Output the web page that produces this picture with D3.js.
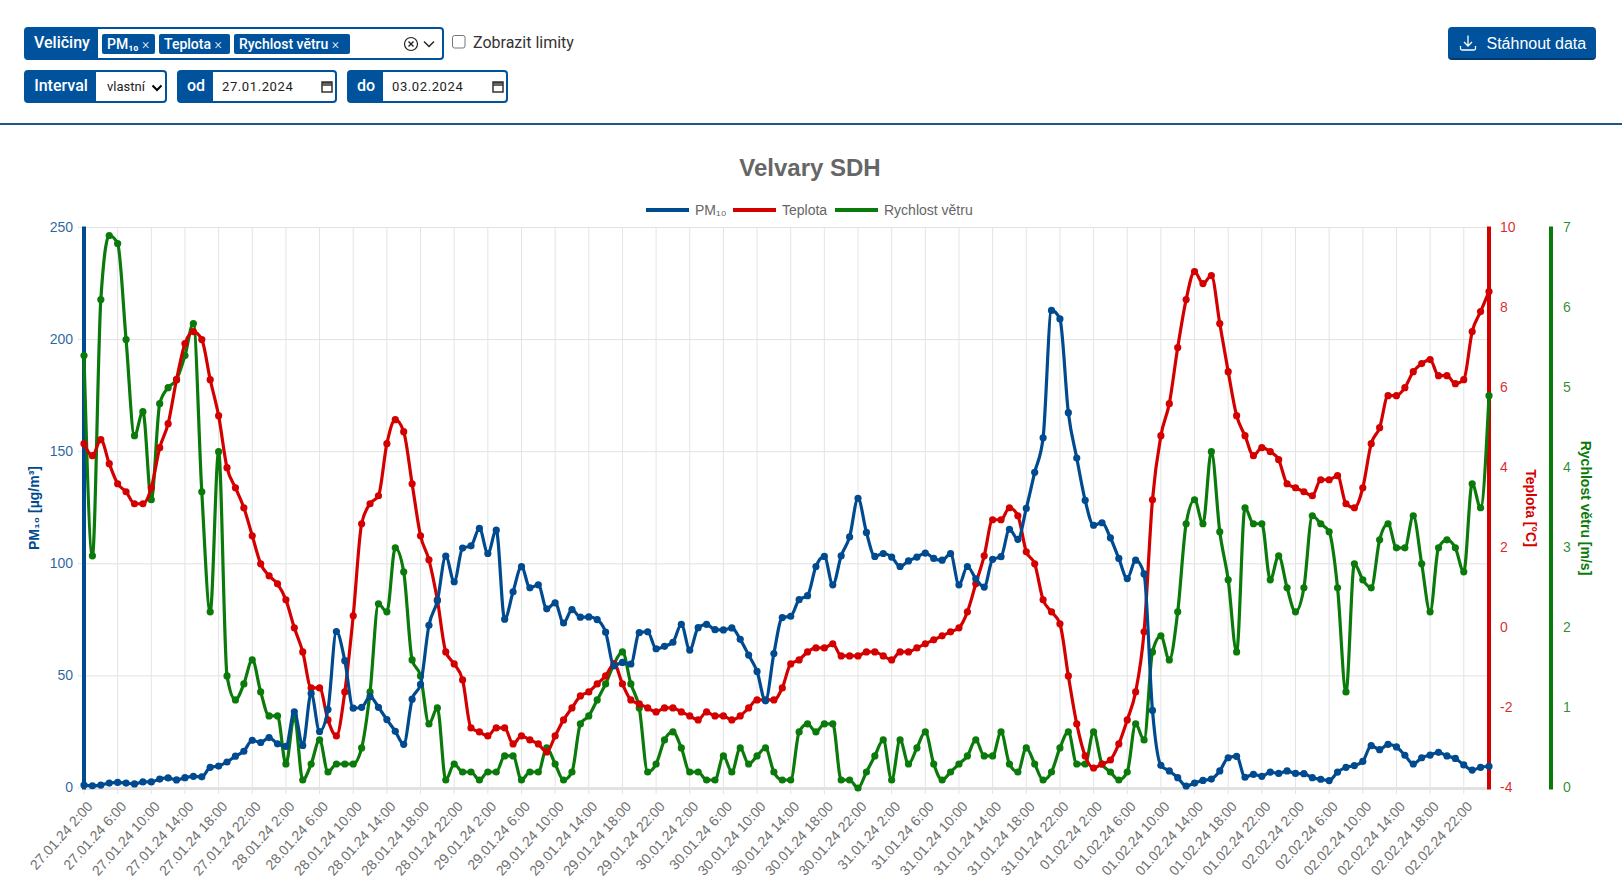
<!DOCTYPE html>
<html lang="cs"><head><meta charset="utf-8"><title>Velvary SDH</title>
<script src="https://cdnjs.cloudflare.com/ajax/libs/d3/7.8.5/d3.min.js"></script>
<style>
html,body{margin:0;padding:0;background:#fff;width:1622px;height:892px;overflow:hidden}
#chart{position:absolute;left:0;top:0}
.box{position:absolute;box-sizing:border-box;border:2px solid #00529c;border-radius:4px;background:#fff;font-family:Roboto,sans-serif}
.lab{position:absolute;left:0;top:0;bottom:0;background:#00529c;color:#fff;font:500 16px/28px Roboto,sans-serif;text-align:center;box-sizing:border-box}
.tag{position:absolute;top:5px;height:19.5px;background:#00529c;color:#fff;border-radius:2px;font:500 14px/20px Roboto,sans-serif;padding-left:5px;box-sizing:border-box;white-space:nowrap}
.tag i{font-style:normal;font-weight:300}
.txt{position:absolute;font:13px/29px Roboto,sans-serif;color:#222;white-space:nowrap}
.plain{position:absolute;font:16px/20px Roboto,sans-serif;color:#333;white-space:nowrap}
.btn{position:absolute;left:1448px;top:27px;width:148px;height:33px;box-sizing:border-box;background:#00529c;border-bottom:2px solid #003a70;border-radius:4px;color:#fff;font:16px/33px "Liberation Sans",Arial,sans-serif}
.rule{position:absolute;left:0;top:123px;width:1622px;height:2px;background:#1b5787}
</style></head><body>
<div class="box" style="left:24px;top:27px;width:420px;height:33px">
  <div class="lab" style="width:72px">Veličiny</div>
  <div class="tag" style="left:76px;width:53px">PM₁₀ <i>×</i></div>
  <div class="tag" style="left:133px;width:71px">Teplota <i>×</i></div>
  <div class="tag" style="left:208px;width:116px">Rychlost větru <i>×</i></div>
  <svg style="position:absolute;left:377px;top:6px" width="40" height="20"><circle cx="8" cy="9" r="6.5" fill="none" stroke="#222" stroke-width="1.2"/><path d="M5.5 6.5l5 5m0-5l-5 5" stroke="#222" stroke-width="1.4"/><path d="M21 6.5l5 5 5-5" fill="none" stroke="#222" stroke-width="1.4"/></svg>
</div>
<svg style="position:absolute;left:452px;top:35px" width="14" height="14"><rect x=".5" y=".5" width="12.5" height="12.5" rx="2" fill="#fff" stroke="#767676"/></svg>
<div class="plain" style="left:473px;top:33px">Zobrazit limity</div>
<div class="box" style="left:24px;top:70px;width:143px;height:33px">
  <div class="lab" style="width:70px">Interval</div>
  <div class="txt" style="left:81px;top:0">vlastní</div>
  <svg style="position:absolute;left:125px;top:11px" width="12" height="10"><path d="M1.5 2.5l4.5 4.5 4.5-4.5" fill="none" stroke="#000" stroke-width="2"/></svg>
</div>
<div class="box" style="left:177px;top:70px;width:160px;height:33px">
  <div class="lab" style="width:34px">od</div>
  <div class="txt" style="left:43px;top:0;letter-spacing:.6px">27.01.2024</div>
  <svg style="position:absolute;left:142px;top:8px" width="13" height="14"><path d="M1 3h10v9H1zM1 2h10v3H1z" fill="none" stroke="#333" stroke-width="1.5"/></svg>
</div>
<div class="box" style="left:347px;top:70px;width:161px;height:33px">
  <div class="lab" style="width:34px">do</div>
  <div class="txt" style="left:43px;top:0;letter-spacing:.6px">03.02.2024</div>
  <svg style="position:absolute;left:143px;top:8px" width="13" height="14"><path d="M1 3h10v9H1zM1 2h10v3H1z" fill="none" stroke="#333" stroke-width="1.5"/></svg>
</div>
<div class="btn"><svg style="position:absolute;left:11px;top:7px" width="18" height="18"><path d="M9 1.5v10M5 8l4 4 4-4M1.5 12v2.5q0 1.5 1.5 1.5h12q1.5 0 1.5-1.5V12" fill="none" stroke="#fff" stroke-width="1.3"/></svg><span style="position:absolute;left:38.5px;white-space:nowrap">Stáhnout data</span></div>
<div class="rule"></div>
<svg id="chart" width="1622" height="892"></svg>
<script>
const pm10 = [1.3,1,1.3,2.2,2.5,2.2,1.8,2.7,2.7,4,4.5,3.6,4.6,5.2,5,9.2,9.8,11.6,14.2,16.4,21.3,20.3,22.5,19.7,18.6,34,19,42.2,25.2,35,69.8,56.8,35.6,36,40.8,36,30.5,25.3,19.5,39.6,46.2,72.6,83.5,103.4,92,107,108,115.8,104.6,115,
75.3,87.5,98.7,89.3,90.6,79.9,82.6,73.6,79.6,76.2,76.3,75.1,69.5,54.5,56,55.3,69.3,69.7,62.1,63.2,65,73,61.5,71.5,73,70.6,70.5,71.4,66.3,59.3,52,38.9,60,76,76.6,84,85.8,98.8,103.3,90.6,103.6,112,129.2,114,103.3,104.6,103,98.8,101.3,103,
104.8,102.4,101.6,104.5,90.6,98.8,93.3,89.6,102,103.2,115.4,110.9,124.7,140.8,156.2,213,209.2,167.4,147.2,128.3,117.2,118.3,111.6,102.4,93.4,101.6,95.5,34.6,10.1,7.6,4.6,0.9,2.2,3.4,4,7.6,13.5,14.1,4.8,6.1,5.2,7.1,6.5,7.6,6.5,6.4,4.6,3.9,3.3,7.1,9.2,10,11.9,18.9,17.1,19.5,18.3,14.6,10.7,13.5,14.7,15.9,14.3,13.2,10.3,8,9.2,9.7];
const teplota = [4.6,4.3,4.7,4.1,3.6,3.4,3.1,3.1,3.5,4.5,5.1,6.2,7.1,7.4,7.2,6.2,5.3,4,3.5,3,2.3,1.6,1.3,1.1,0.7,0,-0.6,-1.5,-1.5,-2.3,-2.7,-1.6,0.3,2.6,3.1,3.3,4.6,5.2,4.9,3.6,2.3,1.7,0.7,-0.6,-0.9,-1.3,-2.5,-2.6,-2.7,-2.5,
-2.5,-2.9,-2.7,-2.8,-2.9,-3.1,-2.7,-2.3,-2,-1.7,-1.6,-1.4,-1.2,-0.9,-1.4,-1.8,-1.9,-2,-2.1,-2,-2,-2.1,-2.2,-2.3,-2.1,-2.2,-2.2,-2.3,-2.2,-2,-1.8,-1.8,-1.8,-1.5,-0.9,-0.8,-0.6,-0.5,-0.5,-0.4,-0.7,-0.7,-0.7,-0.6,-0.6,-0.7,-0.8,-0.6,-0.6,-0.5,
-0.4,-0.3,-0.2,-0.1,0,0.4,1.1,1.8,2.7,2.7,3,2.8,1.9,1.6,0.7,0.4,0.1,-1.2,-2.4,-3.2,-3.5,-3.4,-3.3,-2.9,-2.3,-1.6,-0.1,3.2,4.8,5.6,7,8.2,8.9,8.6,8.8,7.6,6.4,5.3,4.8,4.3,4.5,4.4,4.2,3.6,3.5,3.4,3.3,3.7,3.7,3.8,3.1,3,3.5,4.6,5,5.8,5.8,6,6.4,6.6,6.7,6.3,6.3,6.1,6.2,7.4,7.9,8.4];
const vitr = [5.4,2.9,6.1,6.9,6.8,5.6,4.4,4.7,3.6,4.8,5,5.1,5.4,5.8,3.7,2.2,4.2,1.4,1.1,1.3,1.6,1.2,0.9,0.9,0.3,0.9,0.1,0.3,0.6,0.2,0.3,0.3,0.3,0.5,1.2,2.3,2.2,3,2.7,1.6,1.4,0.8,1,0.1,0.3,0.2,0.2,0.1,0.2,0.2,
0.4,0.4,0.1,0.2,0.2,0.5,0.3,0.1,0.2,0.8,0.9,1.1,1.3,1.55,1.7,1.3,1,0.2,0.3,0.6,0.7,0.5,0.2,0.2,0.1,0.1,0.4,0.2,0.5,0.3,0.4,0.5,0.2,0.1,0.1,0.7,0.8,0.7,0.8,0.8,0.1,0.1,0,0.2,0.4,0.6,0.1,0.6,0.3,0.5,
0.7,0.3,0.1,0.2,0.3,0.4,0.6,0.4,0.4,0.7,0.3,0.2,0.5,0.3,0.1,0.2,0.5,0.7,0.3,0.3,0.7,0.3,0.2,0.1,0.2,0.8,0.6,1.7,1.9,1.6,2.2,3.3,3.6,3.3,4.2,3.2,2.6,1.7,3.5,3.3,3.3,2.6,2.9,2.5,2.2,2.5,3.4,3.3,3.2,2.5,1.2,2.8,2.6,2.5,3.1,3.3,3,3,3.4,2.8,2.2,3,3.1,3,2.7,3.8,3.5,4.9];
const tickLabels = ["27.01.24 2:00","27.01.24 6:00","27.01.24 10:00","27.01.24 14:00","27.01.24 18:00","27.01.24 22:00","28.01.24 2:00","28.01.24 6:00","28.01.24 10:00","28.01.24 14:00","28.01.24 18:00","28.01.24 22:00","29.01.24 2:00","29.01.24 6:00","29.01.24 10:00","29.01.24 14:00","29.01.24 18:00","29.01.24 22:00","30.01.24 2:00","30.01.24 6:00","30.01.24 10:00","30.01.24 14:00","30.01.24 18:00","30.01.24 22:00","31.01.24 2:00","31.01.24 6:00","31.01.24 10:00","31.01.24 14:00","31.01.24 18:00","31.01.24 22:00","01.02.24 2:00","01.02.24 6:00","01.02.24 10:00","01.02.24 14:00","01.02.24 18:00","01.02.24 22:00","02.02.24 2:00","02.02.24 6:00","02.02.24 10:00","02.02.24 14:00","02.02.24 18:00","02.02.24 22:00"];
const pmTicks = [0,50,100,150,200,250];
const tempTicks = [-4,-2,0,2,4,6,8,10];
const windTicks = [0,1,2,3,4,5,6,7];
const seriesNames = ["PM₁₀","Teplota","Rychlost větru"];
const colors = {pm:"#004a8f",temp:"#d40000",wind:"#0a7a0a"};

const L=84,R=1489,T=227.5,B=788,WX=1551;
const svg=d3.select("#chart");
const FONT='"Liberation Sans",Arial,sans-serif';
const x=d3.scaleLinear().domain([0,pm10.length-1]).range([L,R]);
const yP=d3.scaleLinear().domain([0,250]).range([B,T]);
const yT=d3.scaleLinear().domain([-4,10]).range([B,T]);
const yW=d3.scaleLinear().domain([0,7]).range([B,T]);
const tickIdx=tickLabels.map((_,i)=>i*4);

// grid
const g=svg.append("g");
g.selectAll("line.h").data(pmTicks).join("line").attr("x1",L-6).attr("x2",R).attr("y1",d=>yP(d)).attr("y2",d=>yP(d)).attr("stroke","#e2e2e2").attr("stroke-width",1);
g.selectAll("line.v").data(tickIdx).join("line").attr("x1",d=>x(d)).attr("x2",d=>x(d)).attr("y1",T).attr("y2",B+6).attr("stroke","#e4e4e4").attr("stroke-width",1);
g.append("line").attr("x1",L).attr("x2",R).attr("y1",B+.5).attr("y2",B+.5).attr("stroke","#e2e2e2").attr("stroke-width",3);

// x axis
const xa=svg.append("g").attr("transform",`translate(0,${B})`).call(d3.axisBottom(x).tickValues(tickIdx).tickFormat((d,i)=>tickLabels[i]).tickSize(0));
xa.select(".domain").remove();
xa.selectAll("text").attr("fill","#707070").style("font",`14px ${FONT}`).attr("text-anchor","end").attr("dy",0).attr("y",0)
  .attr("transform","translate(9,19) rotate(-48)");

function yAxis(axis,scale,ticks,xp,col,anchor,tx){
  const a=svg.append("g").attr("transform",`translate(${xp},0)`).call(axis(scale).tickValues(ticks).tickSize(0).tickFormat(d=>String(d)));
  a.select(".domain").remove();
  a.selectAll("text").attr("fill",col).attr("fill-opacity",.85).style("font",`14px ${FONT}`).attr("text-anchor",anchor).attr("x",tx).attr("dy","0.25em");
}
yAxis(d3.axisLeft,yP,pmTicks,L,colors.pm,"end",-11);
yAxis(d3.axisRight,yT,tempTicks,R,colors.temp,"start",11);
yAxis(d3.axisRight,yW,windTicks,WX,colors.wind,"start",12);

[[L,colors.pm],[R,colors.temp],[WX,colors.wind]].forEach(([xp,c])=>svg.append("line").attr("x1",xp).attr("x2",xp).attr("y1",T-1).attr("y2",B+1.5).attr("stroke",c).attr("stroke-width",4));

// axis titles
function yTitle(text,xp,rot,c){svg.append("text").attr("transform",`translate(${xp},508) rotate(${rot})`).attr("text-anchor","middle").attr("fill",c).style("font",`bold 14px ${FONT}`).text(text);}
yTitle("PM₁₀ [µg/m³]",38.5,-90,colors.pm);
yTitle("Teplota [°C]",1526,90,colors.temp);
yTitle("Rychlost větru [m/s]",1581,90,colors.wind);

// title + legend
svg.append("text").attr("x",810).attr("y",176).attr("text-anchor","middle").attr("fill","#666").style("font",`bold 24px ${FONT}`).text("Velvary SDH");
[[646,colors.pm],[733,colors.temp],[835,colors.wind]].forEach(([lx,c],i)=>{
  svg.append("line").attr("x1",lx).attr("x2",lx+43).attr("y1",210).attr("y2",210).attr("stroke",c).attr("stroke-width",4);
  svg.append("text").attr("x",lx+49).attr("y",215).attr("fill","#666").style("font",`14px ${FONT}`).text(seriesNames[i]);
});

// series
function draw(vals,y,c){
  const line=d3.line().x((d,i)=>x(i)).y(d=>y(d)).curve(d3.curveMonotoneX);
  svg.append("path").datum(vals).attr("d",line).attr("fill","none").attr("stroke",c).attr("stroke-width",3.2);
  svg.append("g").selectAll("circle").data(vals).join("circle").attr("cx",(d,i)=>x(i)).attr("cy",d=>y(d)).attr("r",3.6).attr("fill",c);
}
draw(vitr,yW,colors.wind);
draw(teplota,yT,colors.temp);
draw(pm10,yP,colors.pm);
</script></body></html>
